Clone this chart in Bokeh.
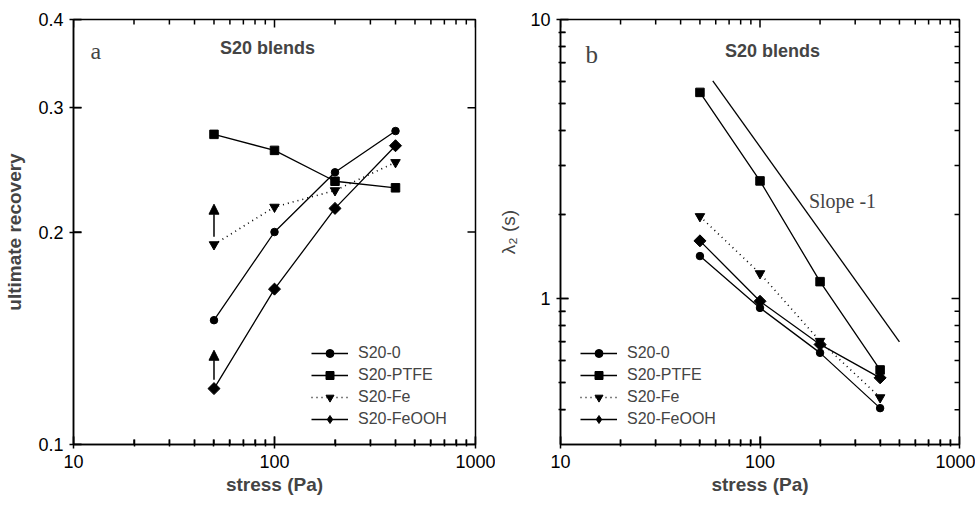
import math
from bokeh.plotting import figure
from bokeh.layouts import row
from bokeh.models import (FixedTicker, Legend, LegendItem, Label, Arrow, NormalHead,
                          ColumnDataSource)
from bokeh.embed import file_html
from bokeh.resources import INLINE

# ---------------- data ----------------
stress = [50, 100, 200, 400]

series_names = ["S20-0", "S20-PTFE", "S20-Fe", "S20-FeOOH"]

rec_s20_0 = [0.150, 0.200, 0.243, 0.278]
rec_ptfe = [0.275, 0.261, 0.236, 0.231]
rec_fe = [0.192, 0.217, 0.229, 0.251]
rec_feooh = [0.120, 0.166, 0.216, 0.265]

lam_s20_0 = [1.42, 0.926, 0.639, 0.405]
lam_ptfe = [5.48, 2.64, 1.15, 0.555]
lam_fe = [1.97, 1.23, 0.704, 0.442]
lam_feooh = [1.61, 0.978, 0.685, 0.52]

slope_x = [58, 500]
slope_y = [6.03, 0.70]

# arrows (panel a) at stress = 50
arrow_x = [50, 50]
arrow_y0 = [0.197, 0.1235]
arrow_y1 = [0.219, 0.136]

x_range_a = (10, 1000)
y_range_a = (0.1, 0.4)
y_range_b = (0.3, 10)

x_major = [10, 100, 1000]
x_labels = ["10", "100", "1000"]
x_minor = [20, 30, 40, 50, 60, 70, 80, 90, 200, 300, 400, 500, 600, 700, 800, 900]
ya_major = [0.1, 0.2, 0.3, 0.4]
ya_labels = ["0.1", "0.2", "0.3", "0.4"]
yb_major = [1, 10]
yb_labels = ["1", "10"]
yb_minor = [0.4, 0.5, 0.6, 0.7, 0.8, 0.9, 2, 3, 4, 5, 6, 7, 8, 9]

SANS = "Liberation Sans"
SERIF = "Liberation Serif"

FRAME_W = 402
FRAME_H = 425
NAN = float("nan")

styles = [
    dict(marker="circle", size=7.5, dash="solid", angle=0.0, leg_marker=None),
    dict(marker="square", size=8.5, dash="solid", angle=0.0, leg_marker=None),
    dict(marker="inverted_triangle", size=9.5, dash="1 4", angle=0.0, leg_marker=None),
    dict(marker="square", size=8.5, dash="solid", angle=math.pi / 4,
         leg_marker="diamond", leg_size=16),
]


def style_axis(ax, ticker, labels, standoff):
    ax.ticker = ticker
    ax.axis_line_color = "black"
    ax.axis_line_width = 1.5
    ax.major_tick_in = 8
    ax.major_tick_out = 4
    ax.minor_tick_in = 5
    ax.minor_tick_out = 2
    ax.major_tick_line_color = "black"
    ax.minor_tick_line_color = "black"
    ax.major_tick_line_width = 1.5
    ax.minor_tick_line_width = 1.5
    ax.major_label_text_font = SANS
    ax.major_label_text_font_size = "18px"
    ax.major_label_text_color = "black"
    ax.major_label_standoff = standoff
    ax.major_label_overrides = {t: l for t, l in zip(ticker.ticks, labels)}


def add_ticks(p, xr, yr, xmaj, xmin, ymaj, ymin, major_len, minor_len):
    # inward tick marks drawn as head-less Arrow annotations (data coordinates;
    # on log axes a pixel length is a ratio of the range)
    fx_span = xr[1] / xr[0]
    fy_span = yr[1] / yr[0]
    x0s, x1s, y0s, y1s = [], [], [], []
    for ticks, length in ((xmaj, major_len), (xmin, minor_len)):
        f = fy_span ** (length / FRAME_H)
        for t in ticks:
            x0s += [t, t]
            x1s += [t, t]
            y0s += [yr[0], yr[1]]
            y1s += [yr[0] * f, yr[1] / f]
    for ticks, length in ((ymaj, major_len), (ymin, minor_len)):
        f = fx_span ** (length / FRAME_W)
        for t in ticks:
            x0s += [xr[0], xr[1]]
            x1s += [xr[0] * f, xr[1] / f]
            y0s += [t, t]
            y1s += [t, t]
    src = ColumnDataSource(dict(x0=x0s, y0=y0s, x1=x1s, y1=y1s))
    p.add_layout(Arrow(start=None, end=None, source=src,
                       x_start="x0", y_start="y0", x_end="x1", y_end="y1",
                       line_color="black", line_width=1.5))


def make_panel(width, border_left, border_right, y_range, y_major, y_minor, y_labels,
               y_label_text, y_label_bold, ys):
    p = figure(width=width, height=500, x_axis_type="log", y_axis_type="log",
               x_range=x_range_a, y_range=y_range,
               min_border_left=border_left, min_border_right=border_right,
               min_border_top=19, min_border_bottom=56,
               output_backend="svg", toolbar_location=None)
    p.xgrid.visible = False
    p.ygrid.visible = False
    p.outline_line_color = "black"
    p.outline_line_width = 1.5
    p.background_fill_color = "white"
    p.border_fill_color = "white"

    style_axis(p.xaxis[0], FixedTicker(ticks=x_major, minor_ticks=x_minor), x_labels, 6)
    style_axis(p.yaxis[0], FixedTicker(ticks=y_major, minor_ticks=y_minor), y_labels, 6)
    p.xaxis[0].axis_label = "stress (Pa)"
    p.xaxis[0].axis_label_text_font = SANS
    p.xaxis[0].axis_label_text_font_style = "bold"
    p.xaxis[0].axis_label_text_font_size = "19px"
    p.xaxis[0].axis_label_standoff = 3
    p.yaxis[0].axis_label = y_label_text
    p.yaxis[0].axis_label_text_font = SANS
    p.yaxis[0].axis_label_text_font_style = "bold" if y_label_bold else "normal"
    p.yaxis[0].axis_label_text_font_size = "19px"
    p.yaxis[0].axis_label_standoff = 10 if y_label_bold else 8

    add_ticks(p, x_range_a, y_range, x_major, x_minor, y_major, y_minor, 8, 5)

    items = []
    for name, y, st in zip(series_names, ys, styles):
        lw = 1.6 if st["dash"] != "solid" else 1.3
        lr = p.line(stress, y, line_color="black", line_width=lw, line_dash=st["dash"])
        sr = p.scatter(stress, y, marker=st["marker"], size=st["size"], angle=st["angle"],
                       fill_color="black", line_color="black")
        if st["leg_marker"] is None:
            items.append(LegendItem(label=name, renderers=[lr, sr]))
        else:
            lg = p.scatter(x=[NAN], y=[NAN], marker=st["leg_marker"], size=st["leg_size"],
                           fill_color="black", line_color="black")
            items.append(LegendItem(label=name, renderers=[lr, lg]))
    return p, items


def add_legend(p, items, loc):
    leg = Legend(items=items, location=loc, border_line_color=None,
                 background_fill_alpha=0, padding=0, margin=0, spacing=2,
                 glyph_width=37, glyph_height=20, label_height=20,
                 label_standoff=10, label_text_font=SANS,
                 label_text_font_size="16px")
    p.add_layout(leg, "center")


# ---------------- panel a ----------------
pa, items_a = make_panel(495, 73, 20, y_range_a, ya_major, [], ya_labels,
                         "ultimate recovery", True,
                         [rec_s20_0, rec_ptfe, rec_fe, rec_feooh])
add_legend(pa, items_a, (238, 15))
for xa, y0, y1 in zip(arrow_x, arrow_y0, arrow_y1):
    pa.add_layout(Arrow(end=NormalHead(size=10, fill_color="black", line_color="black"),
                        x_start=xa, y_start=y0, x_end=xa, y_end=y1,
                        line_color="black", line_width=1.5))
pa.add_layout(Label(x=17, y=394, x_units="screen", y_units="screen", text="a",
                    text_font=SERIF, text_font_size="24px", text_baseline="alphabetic"))
pa.add_layout(Label(x=194, y=397, x_units="screen", y_units="screen", text="S20 blends",
                    text_font=SANS, text_font_style="bold", text_font_size="18px",
                    text_align="center", text_baseline="middle"))

# ---------------- panel b ----------------
pb, items_b = make_panel(480, 62, 16, y_range_b, yb_major, yb_minor, yb_labels,
                         "λ₂ (s)", False,
                         [lam_s20_0, lam_ptfe, lam_fe, lam_feooh])
pb.line(slope_x, slope_y, line_color="black", line_width=1.3)
add_legend(pb, items_b, (20, 15))
pb.add_layout(Label(x=25, y=390, x_units="screen", y_units="screen", text="b",
                    text_font=SERIF, text_font_size="25px", text_baseline="alphabetic"))
pb.add_layout(Label(x=212, y=394, x_units="screen", y_units="screen", text="S20 blends",
                    text_font=SANS, text_font_style="bold", text_font_size="18px",
                    text_align="center", text_baseline="middle"))
pb.add_layout(Label(x=282, y=244, x_units="screen", y_units="screen", text="Slope -1",
                    text_font=SERIF, text_font_size="20px",
                    text_align="center", text_baseline="middle"))

layout = row(pa, pb)
open("out.html", "w").write(file_html(layout, INLINE))
